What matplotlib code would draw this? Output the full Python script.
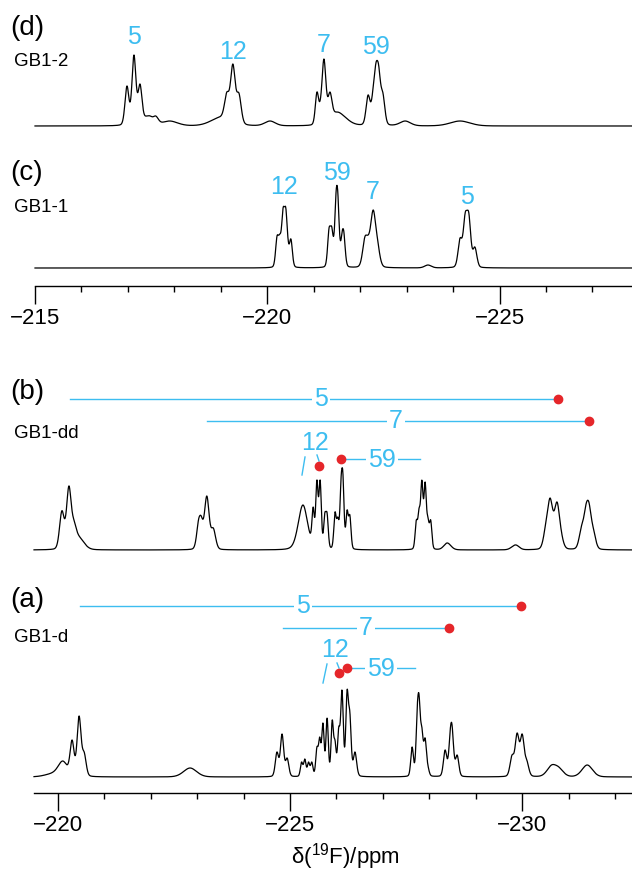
import numpy as np
import matplotlib
matplotlib.use("Agg")
import matplotlib.pyplot as plt
from matplotlib.ticker import MultipleLocator

plt.rcParams['font.family'] = ['Liberation Sans', 'DejaVu Sans']
plt.rcParams['mathtext.fontset'] = 'custom'
plt.rcParams['mathtext.rm'] = 'Liberation Sans'

BLUE = '#3dbdf0'
RED = '#e5262a'

# ------------- data: observed peak tops (ppm, height above baseline, line width ppm) -------------
# panel (d) GB1-2
d_ppm = [-216.98, -217.13, -217.26, -217.40, -217.48, -217.60, -217.90, -219.00, -219.13, -219.26, -219.39,
         -220.06, -221.07, -221.14, -221.22, -221.35, -221.50, -221.70, -222.17, -222.28, -222.34, -222.40,
         -222.45, -222.49, -222.97, -224.15]
d_h = [40, 71, 42, 10, 10, 10, 5, 10, 34, 62, 33, 5, 34, 26, 67, 34, 14, 8, 31, 39, 63, 61, 39, 34, 5, 5]
d_w = [0.03, 0.03, 0.03, 0.06, 0.04, 0.04, 0.12, 0.15, 0.035, 0.035, 0.035, 0.08, 0.025, 0.025, 0.03, 0.03,
       0.1, 0.1, 0.03, 0.03, 0.03, 0.03, 0.03, 0.03, 0.08, 0.15]

# panel (c) GB1-1
c_ppm = [-220.21, -220.27, -220.34, -220.40, -220.45, -220.51, -221.33, -221.39, -221.48, -221.52, -221.61,
         -221.65, -222.10, -222.17, -222.28, -222.38, -223.46, -224.15, -224.26, -224.34, -224.47]
c_h = [32, 34, 60, 60, 28, 29, 40, 41, 75, 75, 36, 36, 31, 33, 58, 27, 3, 30, 55, 55, 21]
c_w = [0.022, 0.022, 0.022, 0.022, 0.022, 0.022, 0.022, 0.022, 0.022, 0.022, 0.022, 0.022,
       0.035, 0.035, 0.04, 0.035, 0.05, 0.03, 0.03, 0.03, 0.03]

# panel (b) GB1-dd
b_ppm = [-220.02, -220.09, -220.24, -220.35, -220.45, -223.03, -223.09, -223.21, -223.35,
         -225.15, -225.28, -225.50, -225.58, -225.65, -225.75, -225.80, -225.97, -226.03, -226.10,
         -226.14, -226.23, -226.29, -227.72, -227.78, -227.84, -227.91, -227.97, -228.03,
         -228.38, -228.45, -229.80, -229.87, -230.50, -230.60, -230.75, -230.85,
         -231.27, -231.37, -231.44, -231.54]
b_h = [5, 43, 64, 30, 15, 30, 34, 54, 22, 20, 45, 43, 70, 70, 37, 37, 38, 33, 72, 77, 40, 35,
       30, 42, 70, 68, 33, 30, 7, 5, 4, 5, 25, 52, 48, 17, 23, 45, 47, 20]
b_w = [0.04, 0.035, 0.035, 0.035, 0.08, 0.03, 0.03, 0.035, 0.035, 0.1, 0.07, 0.018, 0.018, 0.018, 0.018,
       0.018, 0.018, 0.018, 0.018, 0.018, 0.018, 0.018, 0.018, 0.018, 0.018, 0.018, 0.018, 0.018,
       0.05, 0.05, 0.05, 0.05, 0.035, 0.04, 0.04, 0.035, 0.035, 0.04, 0.04, 0.035]

# panel (a) GB1-d
a_ppm = [-219.90, -220.11, -220.31, -220.46, -220.57, -222.85, -224.72, -224.83, -224.94,
         -225.25, -225.32, -225.40, -225.47, -225.58, -225.64, -225.71, -225.80, -225.91, -225.97,
         -226.05, -226.12, -226.23, -226.29, -226.40,
         -227.63, -227.74, -227.78, -227.84, -227.91, -227.97,
         -228.34, -228.45, -228.49, -228.60, -229.78, -229.89, -230.00, -230.10,
         -230.63, -230.79, -231.40]
a_h = [5, 16, 37, 61, 25, 9, 25, 43, 19, 15, 18, 15, 15, 30, 40, 54, 59, 57, 37, 50, 87, 87, 65, 25,
       30, 70, 82, 50, 39, 12, 27, 47, 52, 22, 22, 44, 43, 17, 12, 10, 12]
a_w = [0.12, 0.07, 0.03, 0.03, 0.03, 0.1, 0.025, 0.025, 0.025, 0.018, 0.018, 0.018, 0.018, 0.018, 0.018,
       0.018, 0.018, 0.018, 0.018, 0.018, 0.02, 0.02, 0.02, 0.025,
       0.02, 0.02, 0.02, 0.02, 0.02, 0.02, 0.025, 0.025, 0.025, 0.025, 0.03, 0.03, 0.03, 0.03,
       0.07, 0.07, 0.08]

# residue assignment labels
top_labels_d = ['5', '12', '7', '59']
top_labels_d_ppm = [-217.13, -219.26, -221.22, -222.34]
top_labels_c = ['12', '59', '7', '5']
top_labels_c_ppm = [-220.37, -221.50, -222.27, -224.30]

b_dot_ppm = {'5': -230.77, '7': -231.44, '12': -225.63, '59': -226.10}
b_line_start = {'5': -220.27, '7': -223.21}
a_dot_ppm = {'5': -229.98, '7': -228.43, '12': -226.06, '59': -226.23}
a_line_start = {'5': -220.48, '7': -224.85}

W, H = 632, 873
fig = plt.figure(figsize=(W / 100, H / 100), dpi=100)


def shape(x, p, w):
    s = w * 1.45
    g = np.exp(-(x - p) ** 2 / (2 * s ** 2))
    lo = s ** 2 / ((x - p) ** 2 + s ** 2)
    return 0.8 * g + 0.2 * lo


def spectrum(x, ppm, h, w):
    # amplitudes chosen so that the summed curve passes through the observed peak tops
    p = np.asarray(ppm, float)
    hh = np.asarray(h, float)
    ww = np.asarray(w, float)
    active = np.ones(len(p), bool)
    amps = np.zeros(len(p))
    for _ in range(40):
        A = shape(p[:, None], p[None, active], ww[None, active])
        a = np.linalg.lstsq(A, hh, rcond=None)[0]
        idx = np.where(active)[0]
        if (a >= 0).all():
            amps[:] = 0
            amps[idx] = a
            break
        active[idx[np.argmin(a)]] = False
    y = np.zeros_like(x)
    for pp, aa, w_ in zip(p, amps, ww):
        y += aa * shape(x, pp, w_)
    return y


def make_axes(x0, x1_px, ybot, ytop, ppm_left, ppm_right):
    ax = fig.add_axes([x0 / W, (H - ybot) / H, (x1_px - x0) / W, (ybot - ytop) / H])
    ax.set_xlim(ppm_left, ppm_right)
    ax.set_ylim(0, ybot - ytop)
    for s in ['top', 'left', 'right']:
        ax.spines[s].set_visible(False)
    ax.spines['bottom'].set_linewidth(1.0)
    ax.set_yticks([])
    ax.xaxis.set_major_locator(MultipleLocator(5))
    ax.xaxis.set_minor_locator(MultipleLocator(1))
    ax.tick_params(axis='x', which='major', length=13, width=1.0, labelsize=16, pad=3)
    ax.tick_params(axis='x', which='minor', length=4.5, width=1.0)
    ax.patch.set_visible(False)
    return ax


PXPP = 46.45
top_ax = make_axes(35, 632, 286, 0, -215, -215 - 597 / PXPP)
bot_ax = make_axes(34, 632, 793, 330, -220 + 23.7 / PXPP, -220 + 23.7 / PXPP - 598 / PXPP)


def Yt(py):
    return 286 - py


def Yb(py):
    return 793 - py


xt = np.arange(-215, -228.0, -0.004)
xb = np.arange(-219.49, -232.4, -0.004)

LW = 0.9
top_ax.plot(xt, Yt(126) + spectrum(xt, d_ppm, d_h, d_w), color='black', lw=LW, clip_on=False)
top_ax.plot(xt, Yt(268) + spectrum(xt, c_ppm, c_h, c_w), color='black', lw=LW, clip_on=False)
bot_ax.plot(xb, Yb(550) + spectrum(xb, b_ppm, b_h, b_w), color='black', lw=LW, clip_on=False)
bot_ax.plot(xb, Yb(777) + spectrum(xb, a_ppm, a_h, a_w), color='black', lw=LW, clip_on=False)


def ftext(px, py, s, size, **kw):
    fig.text(px / W, (H - py) / H, s, fontsize=size, va='center', **kw)


ftext(10, 28, '(d)', 20)
ftext(14, 62, 'GB1-2', 13.5)
ftext(10, 173, '(c)', 20)
ftext(14, 208, 'GB1-1', 13.5)
ftext(10, 392, '(b)', 20)
ftext(14, 434, 'GB1-dd', 13.5)
ftext(10, 600, '(a)', 20)
ftext(14, 638, 'GB1-d', 13.5)

for lab, p, py in zip(top_labels_d, top_labels_d_ppm, [37, 52, 45, 47]):
    top_ax.text(p, Yt(py), lab, color=BLUE, fontsize=18, ha='center', va='center', clip_on=False)
for lab, p, py in zip(top_labels_c, top_labels_c_ppm, [187, 173, 192, 197]):
    top_ax.text(p, Yt(py), lab, color=BLUE, fontsize=18, ha='center', va='center', clip_on=False)


def annotate_panel(ax, dots, starts, y5, y7, x5lab, x7lab, x12lab, y12lab, ydot12, ydot59, x59lab,
                   y59lab, x59end, slash, tick12):
    bbox = dict(facecolor='white', edgecolor='none', pad=1.5)
    for key, y, xl in [('5', y5, x5lab), ('7', y7, x7lab)]:
        ax.plot([starts[key], dots[key]], [Yb(y), Yb(y)], color=BLUE, lw=1.0, clip_on=False)
        ax.text(xl, Yb(y), key, color=BLUE, fontsize=18, ha='center', va='center', bbox=bbox,
                clip_on=False)
        ax.plot([dots[key]], [Yb(y)], 'o', color=RED, ms=6, clip_on=False, zorder=5)
    ax.plot([dots['59'], x59end], [Yb(ydot59), Yb(ydot59)], color=BLUE, lw=1.0, clip_on=False)
    ax.text(x59lab, Yb(y59lab), '59', color=BLUE, fontsize=18, ha='center', va='center', bbox=bbox,
            clip_on=False)
    ax.plot([dots['59']], [Yb(ydot59)], 'o', color=RED, ms=6, clip_on=False, zorder=5)
    ax.text(x12lab, Yb(y12lab), '12', color=BLUE, fontsize=18, ha='center', va='center', clip_on=False)
    ax.plot([dots['12']], [Yb(ydot12)], 'o', color=RED, ms=6, clip_on=False, zorder=5)
    (sx0, sy0), (sx1, sy1) = slash
    ax.plot([sx0, sx1], [Yb(sy0), Yb(sy1)], color=BLUE, lw=1.0, clip_on=False)
    (tx0, ty0), (tx1, ty1) = tick12
    ax.plot([tx0, tx1], [Yb(ty0), Yb(ty1)], color=BLUE, lw=1.0, clip_on=False)


def ppm_b(px):
    return -220 - (px - 57.7) / PXPP


annotate_panel(bot_ax, b_dot_ppm, b_line_start, 399, 421, ppm_b(321), ppm_b(396), ppm_b(315), 443,
               466, 459, ppm_b(382), 460, ppm_b(420),
               ((ppm_b(305), 457), (ppm_b(302), 475)), ((ppm_b(317), 455), (ppm_b(319), 461)))
annotate_panel(bot_ax, a_dot_ppm, a_line_start, 606, 628, ppm_b(303), ppm_b(366), ppm_b(335), 650,
               673, 668, ppm_b(381), 669, ppm_b(415),
               ((ppm_b(327), 664), (ppm_b(323), 683)), ((ppm_b(337), 663), (ppm_b(339), 668)))

ftext(345, 857, r'δ($\mathregular{^{19}}$F)/ppm', 16, ha='center')

fig.savefig('out.png', dpi=100)
